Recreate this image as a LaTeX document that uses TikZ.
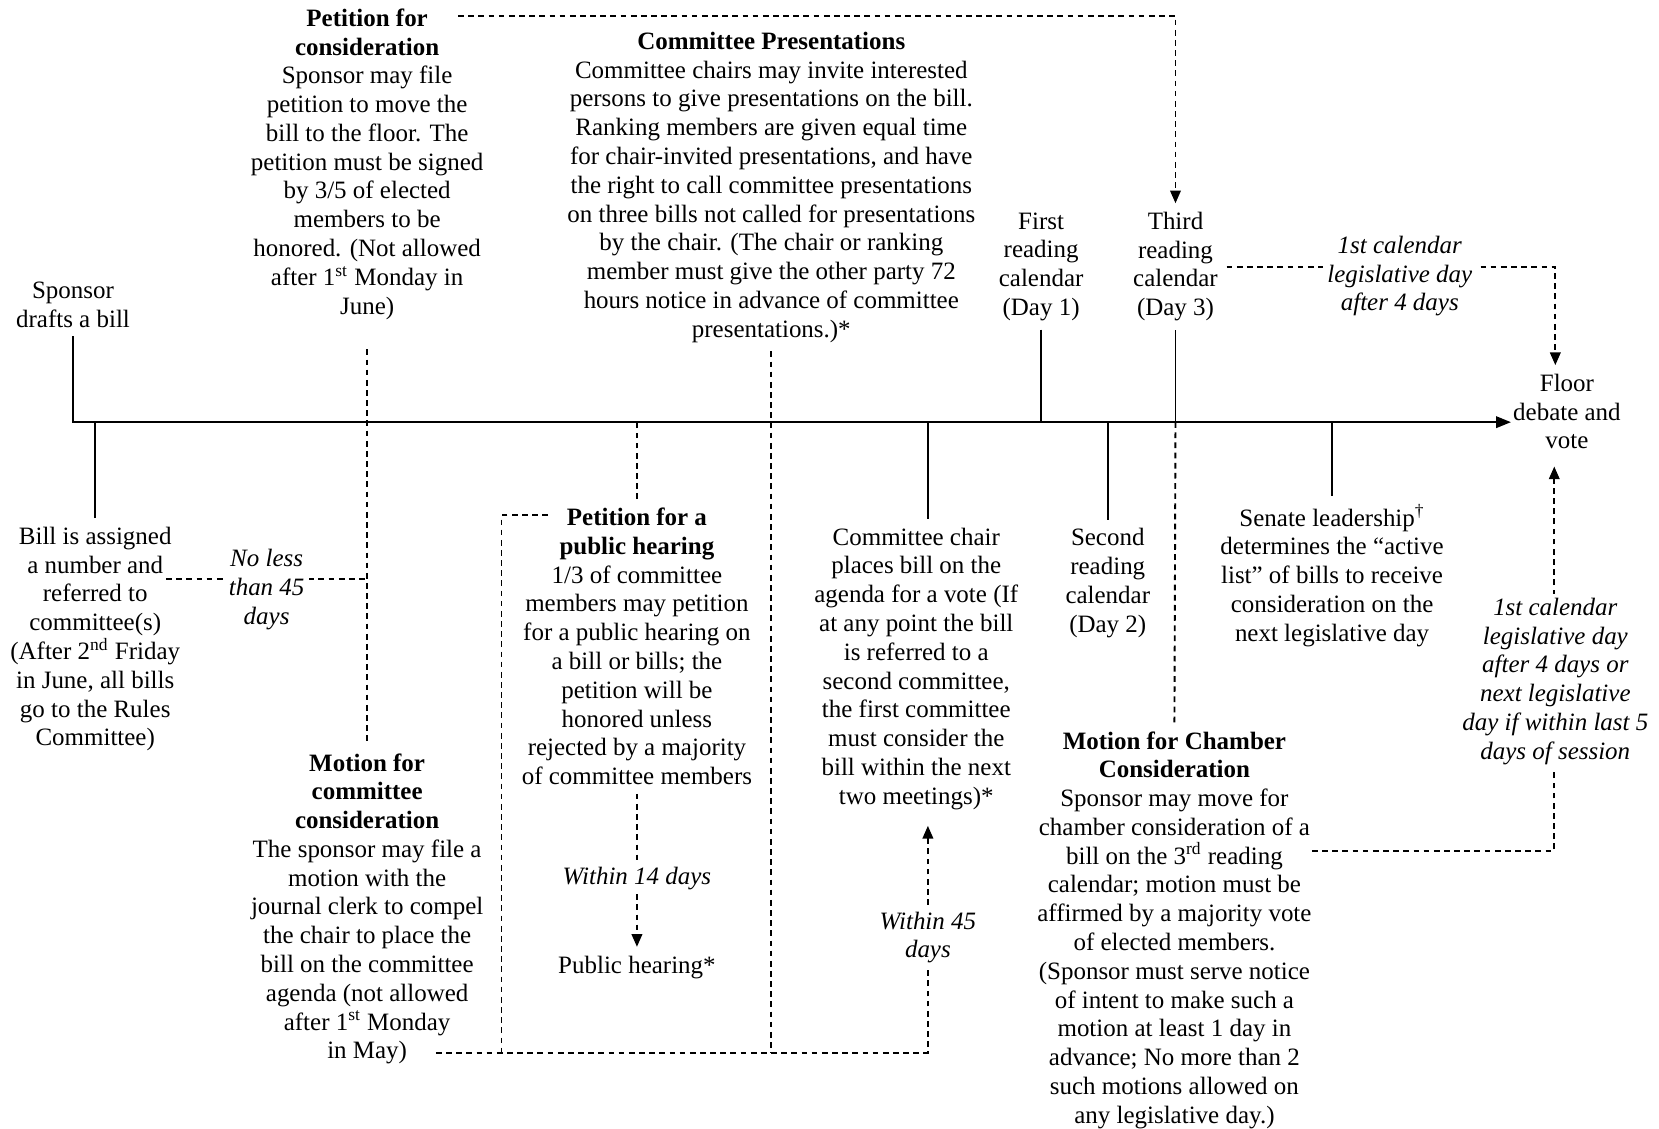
\documentclass[tikz,border=0pt]{standalone}
\usepackage{fontspec}
\setmainfont{Liberation Serif}
\usetikzlibrary{arrows.meta}

\tikzset{
  txt/.style={align=center,inner sep=4pt,font=\fontsize{11.8}{13.6}\selectfont},
  lbl/.style={txt,font=\fontsize{11.8}{13.6}\selectfont\itshape,fill=white,inner sep=2pt},
  tick/.style={line width=0.75pt},
  dashline/.style={line width=0.9pt,dash pattern=on 2.7pt off 2.1pt},
  dasharrow/.style={dashline,-{Triangle[length=6pt,width=5pt]}}
}

\begin{document}
\begin{tikzpicture}[x=0.5pt,y=0.5pt,yscale=-1,xscale=1]
\useasboundingbox (0,0) rectangle (1568,1067);

% Text Node
\draw (69,288) node [txt] (sponsor) {Sponsor\\drafts a bill};
% Text Node
\draw (90,604) node [txt] (billnum) {Bill is assigned\\a number and\\referred to\\committee(s)\\(After 2\textsuperscript{nd} Friday\\in June, all bills\\go to the Rules\\Committee)};
% Text Node
\draw (347,155) node [txt] (petcons) {\textbf{Petition for}\\\textbf{consideration}\\Sponsor may file\\petition to move the\\bill to the floor. The\\petition must be signed\\by 3/5 of elected\\members to be\\honored. (Not allowed\\after 1\textsuperscript{st} Monday in\\June)};
% Text Node
\draw (347,859) node [txt] (motcom) {\textbf{Motion for}\\\textbf{committee}\\\textbf{consideration}\\The sponsor may file a\\motion with the\\journal clerk to compel\\the chair to place the\\bill on the committee\\agenda (not allowed\\after 1\textsuperscript{st} Monday\\in May)};
% Text Node
\draw (602,611) node [txt] (pethear) {\textbf{Petition for a}\\\textbf{public hearing}\\1/3 of committee\\members may petition\\for a public hearing on\\a bill or bills; the\\petition will be\\honored unless\\rejected by a majority\\of committee members};
% Text Node
\draw (602,914) node [txt] (pubhear) {Public hearing*};
% Text Node
\draw (729,177) node [txt] (compres) {\textbf{Committee Presentations}\\Committee chairs may invite interested\\persons to give presentations on the bill.\\Ranking members are given equal time\\for chair-invited presentations, and have\\the right to call committee presentations\\on three bills not called for presentations\\by the chair. (The chair or ranking\\member must give the other party 72\\hours notice in advance of committee\\presentations.)*};
% Text Node
\draw (866,632) node [txt] (comchair) {Committee chair\\places bill on the\\agenda for a vote (If\\at any point the bill\\is referred to a\\second committee,\\the first committee\\must consider the\\bill within the next\\two meetings)*};
% Text Node
\draw (984,252) node [txt] (first) {First\\reading\\calendar\\(Day 1)};
% Text Node
\draw (1047,551) node [txt] (second) {Second\\reading\\calendar\\(Day 2)};
% Text Node
\draw (1111,252) node [txt] (third) {Third\\reading\\calendar\\(Day 3)};
% Text Node
\draw (1110,879) node [txt] (motcham) {\textbf{Motion for Chamber}\\\textbf{Consideration}\\Sponsor may move for\\chamber consideration of a\\bill on the 3\textsuperscript{rd} reading\\calendar; motion must be\\affirmed by a majority vote\\of elected members.\\(Sponsor must serve notice\\of intent to make such a\\motion at least 1 day in\\advance; No more than 2\\such motions allowed on\\any legislative day.)};
% Text Node
\draw (1259,544) node [txt] (senate) {Senate leadership\textsuperscript{\textdagger}\\determines the ``active\\list'' of bills to receive\\consideration on the\\next legislative day};
% Text Node
\draw (1481,389) node [txt] (floor) {Floor\\debate and\\vote};

\coordinate (start) at (69,399);
\coordinate (end) at (1428,399);
\coordinate (numend) at (157,547);
\coordinate (petend) at (433,15);
\coordinate (mayend) at (412,995);
\coordinate (boxtop) at (518,487);
\coordinate (boxbot) at (474,995);
\coordinate (chamend) at (1240,804);

%Straight Lines
\draw [tick,-{Triangle[length=7pt,width=5.5pt]}] (sponsor.south) -- (start) -- (end);
%Straight Lines
\draw [tick] (billnum.north) -- (billnum.north |- start);
\draw [tick] ([xshift=5.5pt]comchair.north) -- ([xshift=5.5pt]comchair.north |- start);
\draw [tick] (first.south) -- (first.south |- start);
\draw [tick] (second.north) -- (second.north |- start);
\draw [tick] (third.south) -- (third.south |- start);
\draw [tick] (senate.north) -- (senate.north |- start);
%Straight Lines
\draw [dashline,shorten <=10pt] (petcons.south) -- (motcom.north);
\draw [dashline] (numend) -- (numend -| petcons.south);
\draw [dasharrow] (petend) -| (third.north);
\draw [dashline] (compres.south) -- (compres.south |- mayend);
\draw [dashline] (boxtop) -| (boxbot);
\draw [dasharrow,shorten >=3.5pt] (mayend) -| ([xshift=5.5pt]comchair.south);
\draw [dashline] (pethear.north) -- (pethear.north |- start);
\draw [dashline] (third.south |- start) -- (motcham.north);
\draw [dasharrow] (third.east) -| ([xshift=-5.5pt]floor.north);
\draw [dasharrow,shorten >=4pt] (chamend) -| ([xshift=-6pt]floor.south);

% Text Node
\draw (252,557) node [lbl] (noless) {No less\\than 45\\days};
% Text Node
\draw (602,830) node [lbl] (within14) {Within 14 days};
% Text Node
\draw (877,886) node [lbl] (within45) {Within 45\\days};
% Text Node
\draw (1323,261) node [lbl] (legday) {1st calendar\\legislative day\\after 4 days};
% Text Node
\draw (1470,644) node [lbl] (legday5) {1st calendar\\legislative day\\after 4 days or\\next legislative\\day if within last 5\\days of session};

%Straight Lines
\draw [dashline] (pethear.south) -- (within14.north);
\draw [dasharrow] (within14.south) -- (pubhear.north);
\end{tikzpicture}
\end{document}
